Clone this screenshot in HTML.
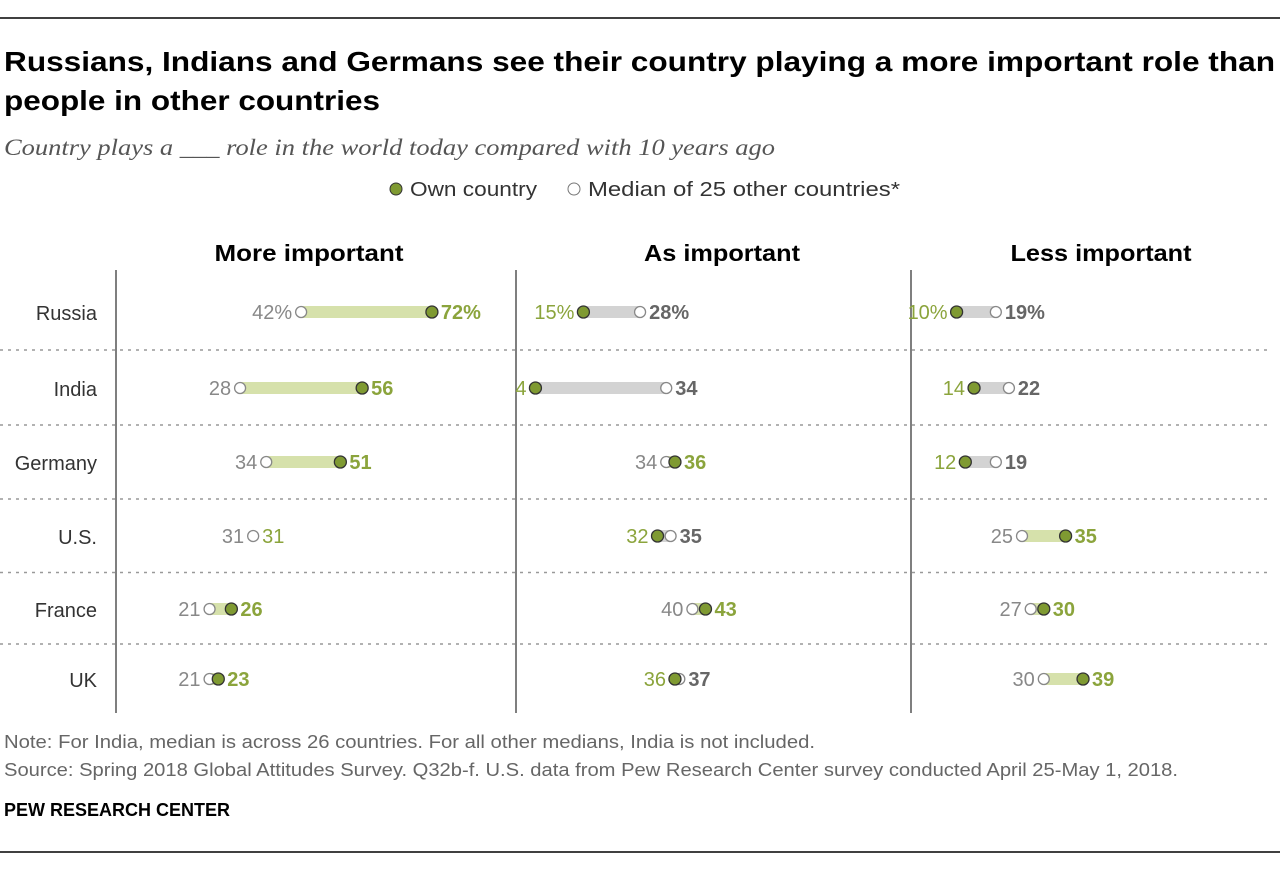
<!DOCTYPE html>
<html><head><meta charset="utf-8">
<style>
body{margin:0;background:#fff;width:1280px;height:870px;overflow:hidden;font-family:"Liberation Sans",sans-serif;}
svg text{font-family:"Liberation Sans",sans-serif;}
</style></head>
<body>
<svg id="chart" width="1280" height="870" xmlns="http://www.w3.org/2000/svg">
<line x1="0" y1="18" x2="1280" y2="18" stroke="#000" stroke-width="1.5"/>
<text x="4" y="71" font-size="28" font-weight="bold" fill="#000" textLength="1271" lengthAdjust="spacingAndGlyphs">Russians, Indians and Germans see their country playing a more important role than</text>
<text x="4" y="110" font-size="28" font-weight="bold" fill="#000" textLength="376" lengthAdjust="spacingAndGlyphs">people in other countries</text>
<text x="4" y="155" font-size="23" font-style="italic" fill="#555" textLength="771" lengthAdjust="spacingAndGlyphs" style="font-family:'Liberation Serif',serif">Country plays a ___ role in the world today compared with 10 years ago</text>
<g>
<circle cx="396" cy="189" r="6" fill="#7f9a32" stroke="#333"/>
<text x="410" y="196" font-size="20" fill="#333" textLength="127" lengthAdjust="spacingAndGlyphs">Own country</text>
<circle cx="574" cy="189" r="6" fill="#fff" stroke="#777"/>
<text x="588" y="196" font-size="20" fill="#333" textLength="312" lengthAdjust="spacingAndGlyphs">Median of 25 other countries*</text>
</g>
<g id="plot"></g>
<text x="4" y="748" font-size="18" fill="#666" textLength="811" lengthAdjust="spacingAndGlyphs">Note: For India, median is across 26 countries. For all other medians, India is not included.</text>
<text x="4" y="776" font-size="18" fill="#666" textLength="1174" lengthAdjust="spacingAndGlyphs">Source: Spring 2018 Global Attitudes Survey. Q32b-f. U.S. data from Pew Research Center survey conducted April 25-May 1, 2018.</text>
<text x="4" y="816" font-size="18" font-weight="bold" fill="#000" textLength="226" lengthAdjust="spacingAndGlyphs">PEW RESEARCH CENTER</text>
<line x1="0" y1="852" x2="1280" y2="852" stroke="#000" stroke-width="1.5"/>
</svg>
<script>
const countries = ["Russia","India","Germany","U.S.","France","UK"];
const panels = ["More important","As important","Less important"];
const ownMore = [72,56,51,31,26,23];
const medMore = [42,28,34,31,21,21];
const ownAs = [15,4,36,32,43,36];
const medAs = [28,34,34,35,40,37];
const ownLess = [10,14,12,35,30,39];
const medLess = [19,22,19,25,27,30];
const own = [ownMore, ownAs, ownLess];
const med = [medMore, medAs, medLess];

const NS = "http://www.w3.org/2000/svg";
const plot = document.getElementById("plot");
const panelX = [116, 516, 911];
const panelCenter = [309, 722, 1101];
const headerW = [189, 156, 181];
const scale = 4.36;
const rowY = [312,388,462,536,609,679];
const GREEN = "#8ba43c";
function xPos(p, v){ return panelX[p] + 2 + v*scale; }
function yPos(i){ return rowY[i]; }
function el(tag, attrs){ const e=document.createElementNS(NS,tag); for(const k in attrs) e.setAttribute(k,attrs[k]); plot.appendChild(e); return e; }

for(let i=0;i<countries.length-1;i++){
  const y=(yPos(i)+yPos(i+1))/2;
  const l=el("line",{x1:0,x2:1270,y1:y,y2:y,stroke:"#999","stroke-width":1.5,"stroke-dasharray":"3,5"});
  
  
}
panels.forEach((p,k)=>{
  const l=el("line",{x1:panelX[k],x2:panelX[k],y1:270,y2:713,stroke:"#555","stroke-width":1.5});
  
  
  const t=el("text",{x:panelCenter[k],y:261,"font-size":23,"font-weight":"bold","text-anchor":"middle",fill:"#000",textLength:headerW[k],lengthAdjust:"spacingAndGlyphs"});
  t.textContent=p;
  
  
});
countries.forEach((c,i)=>{
  const t=el("text",{x:97,y:yPos(i)+8,"font-size":20,fill:"#333","text-anchor":"end"});
  t.textContent=c;
  
  
});
for(let p=0;p<3;p++){
  for(let i=0;i<countries.length;i++){
    const o=own[p][i], m=med[p][i], y=yPos(i);
    const xo=xPos(p,o), xm=xPos(p,m);
    const pct = i===0 ? "%" : "";
    const bar=el("rect",{x:Math.min(xo,xm),y:y-6,width:Math.abs(xo-xm),height:12,fill:o>m?"#d6e1ab":"#d3d3d3"});
    
    
    const cm=el("circle",{cx:xm,cy:y,r:5.5,fill:"#fff",stroke:"#888","stroke-width":1.3});
    
    
    if(o!==m){
      const co=el("circle",{cx:xo,cy:y,r:6,fill:"#7f9a32",stroke:"#333","stroke-width":1.3});
      
      
    }
    let leftV, leftC, rightV, rightC, rightBold=true;
    if(o>m){ leftV=m; leftC="#888"; rightV=o; rightC=GREEN; }
    else if(o<m){ leftV=o; leftC=GREEN; rightV=m; rightC="#666"; }
    else { leftV=m; leftC="#888"; rightV=o; rightC=GREEN; rightBold=false; }
    const lx=Math.min(xo,xm)-9, rx=Math.max(xo,xm)+9;
    const tl=el("text",{x:lx,y:y+7,"font-size":20,"text-anchor":"end",fill:leftC});
    tl.textContent=leftV+pct;
    
    
    const tr=el("text",{x:rx,y:y+7,"font-size":20,"font-weight":rightBold?"bold":"normal",fill:rightC});
    tr.textContent=rightV+pct;
    
    
  }
}
</script>
</body></html>
